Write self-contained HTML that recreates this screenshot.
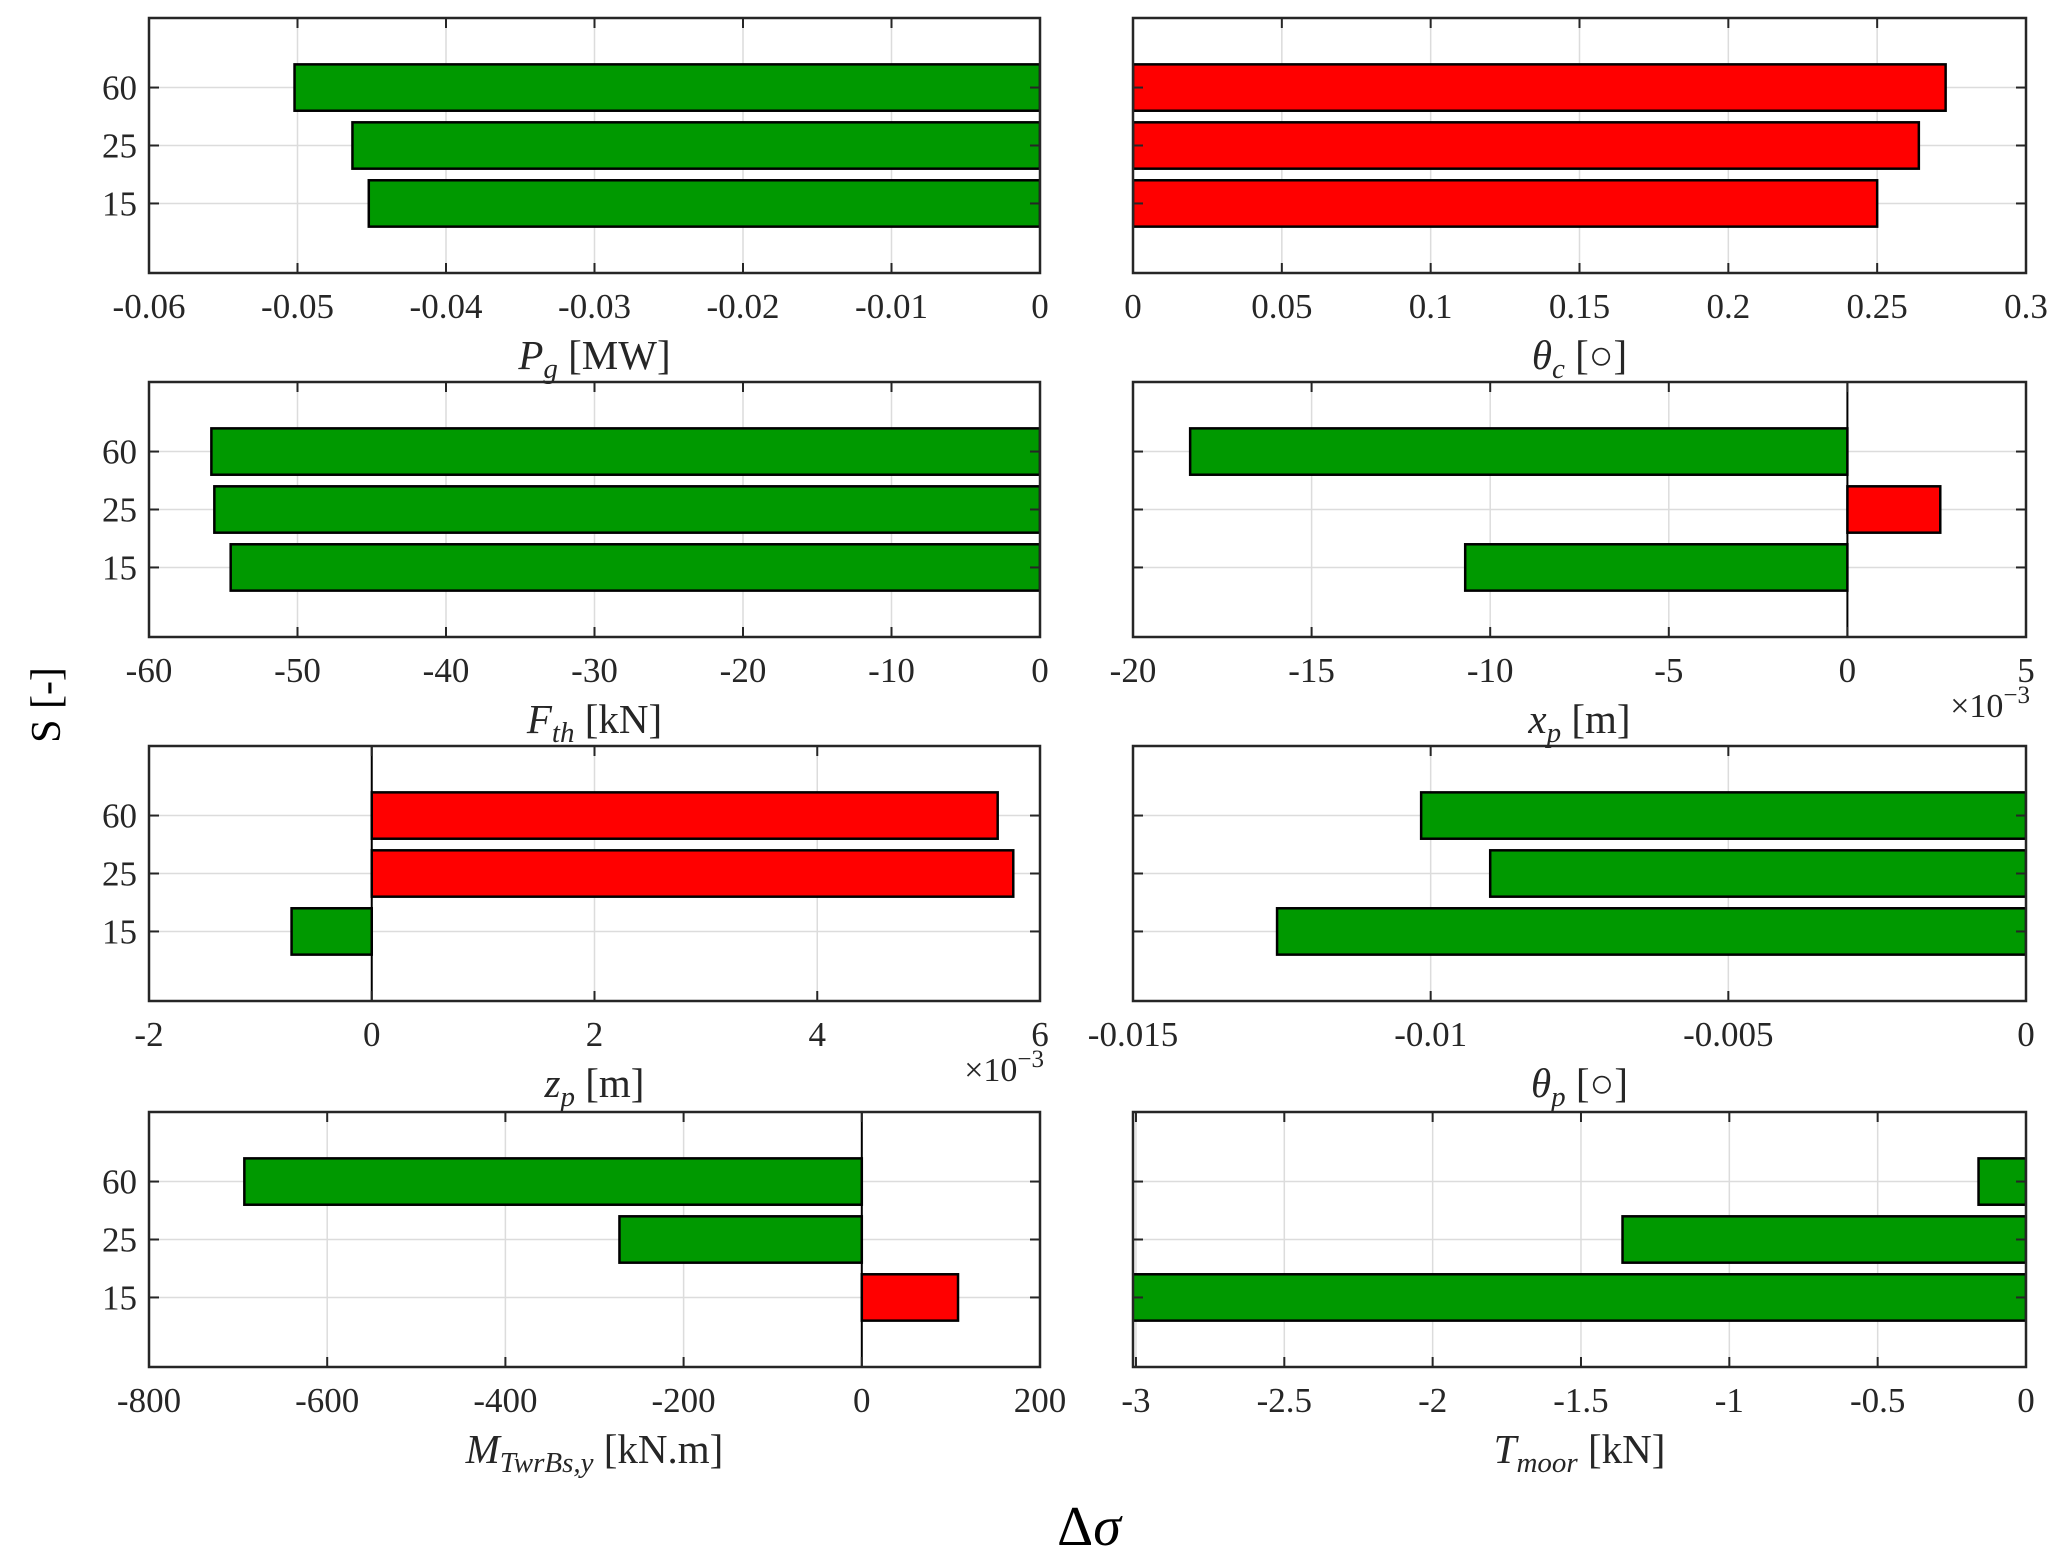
<!DOCTYPE html>
<html><head><meta charset="utf-8"><style>
html,body{margin:0;padding:0;background:#fff;}
svg{display:block;font-family:"Liberation Serif",serif;}
</style></head><body>
<svg id="fig" width="2067" height="1565" viewBox="0 0 2067 1565" xmlns="http://www.w3.org/2000/svg">
<text x="0" y="0" transform="translate(60,705) rotate(-90)" text-anchor="middle" font-size="42">S [-]</text>
<text x="1089" y="1545" text-anchor="middle" font-size="56">Δ<tspan font-style="italic">σ</tspan></text>
</svg>
<script>
const categories = ["15","25","60"];
const pgValues = [-0.0452, -0.0463, -0.0502];
const thetaCValues = [0.250, 0.264, 0.273];
const fthValues = [-54.5, -55.6, -55.8];
const xpValues = [-10.7, 2.6, -18.4];
const zpValues = [-0.72, 5.76, 5.62];
const thetaPValues = [-0.01258, -0.0090, -0.01016];
const mValues = [108, -272, -693];
const tValues = [-3.1, -1.36, -0.16];
const pgTicks = ["-0.06","-0.05","-0.04","-0.03","-0.02","-0.01","0"];
const thetaCTicks = ["0","0.05","0.1","0.15","0.2","0.25","0.3"];
const fthTicks = ["-60","-50","-40","-30","-20","-10","0"];
const xpTicks = ["-20","-15","-10","-5","0","5"];
const zpTicks = ["-2","0","2","4","6"];
const thetaPTicks = ["-0.015","-0.01","-0.005","0"];
const mTicks = ["-800","-600","-400","-200","0","200"];
const tTicks = ["-3","-2.5","-2","-1.5","-1","-0.5","0"];

const NS="http://www.w3.org/2000/svg";
const svg=document.getElementById('fig');
function mk(tag,attrs,parent){const e=document.createElementNS(NS,tag);for(const k in attrs)e.setAttribute(k,attrs[k]);(parent||svg).appendChild(e);return e;}

const panels=[
 {name:'pg',col:0,row:0,vals:pgValues,ticks:pgTicks,xmin:-0.06,xmax:0,label:['P','g',' [MW]'],zero:false},
 {name:'theta-c',col:1,row:0,vals:thetaCValues,ticks:thetaCTicks,xmin:0,xmax:0.3,label:['θ','c',' [○]'],zero:false},
 {name:'fth',col:0,row:1,vals:fthValues,ticks:fthTicks,xmin:-60,xmax:0,label:['F','th',' [kN]'],zero:false},
 {name:'xp',col:1,row:1,vals:xpValues,ticks:xpTicks,xmin:-20,xmax:5,label:['x','p',' [m]'],zero:true,exp:true},
 {name:'zp',col:0,row:2,vals:zpValues,ticks:zpTicks,xmin:-2,xmax:6,label:['z','p',' [m]'],zero:true,exp:true},
 {name:'theta-p',col:1,row:2,vals:thetaPValues,ticks:thetaPTicks,xmin:-0.015,xmax:0,label:['θ','p',' [○]'],zero:false},
 {name:'m-twr',col:0,row:3,vals:mValues,ticks:mTicks,xmin:-800,xmax:200,label:['M','TwrBs,y',' [kN.m]'],zero:true},
 {name:'t-moor',col:1,row:3,vals:tValues,ticks:tTicks,xmin:-3.01,xmax:0,label:['T','moor',' [kN]'],zero:false}
];
const cols=[[149,1040],[1133,2026]];
const rows=[18,382,746,1112];
const H=255, ymin=-0.2, ymax=4.2;

panels.forEach((p,pi)=>{
 const x0=cols[p.col][0], x1=cols[p.col][1], y0=rows[p.row], y1=y0+H;
 const g=mk('g',{});
 
 
 const clipId='clip'+pi;
 const cp=mk('clipPath',{id:clipId},g); mk('rect',{x:x0,y:y0,width:x1-x0,height:H},cp);
 const xs=v=>x0+(v-p.xmin)/(p.xmax-p.xmin)*(x1-x0);
 const ys=v=>y1-(v-ymin)/(ymax-ymin)*H;
 const tickVals=p.ticks.map(Number);
 tickVals.forEach(t=>{const x=xs(t);mk('line',{x1:x,x2:x,y1:y0,y2:y1,stroke:'#dcdcdc','stroke-width':1.5},g);});
 categories.forEach((c,i)=>{const y=ys(i+1);mk('line',{x1:x0,x2:x1,y1:y,y2:y,stroke:'#dcdcdc','stroke-width':1.5},g);});
 const bg=mk('g',{'clip-path':'url(#'+clipId+')'},g);
 p.vals.forEach((v,i)=>{
  const a=xs(Math.min(0,v)), b=xs(Math.max(0,v));
  const yc=ys(i+1), hh=0.4*H/(ymax-ymin);
  const r=mk('rect',{x:a,y:yc-hh,width:b-a,height:2*hh,fill:v<0?'#009900':'#ff0000',stroke:'#000','stroke-width':2.5},bg);
  
  
 });
 if(p.zero){const x=xs(0);mk('line',{x1:x,x2:x,y1:y0,y2:y1,stroke:'#000','stroke-width':2},g);}
 mk('rect',{x:x0,y:y0,width:x1-x0,height:H,fill:'none',stroke:'#262626','stroke-width':2.5},g);
 tickVals.forEach((t,k)=>{const x=xs(t);
  mk('line',{x1:x,x2:x,y1:y1,y2:y1-10,stroke:'#262626','stroke-width':2},g);
  mk('line',{x1:x,x2:x,y1:y0,y2:y0+10,stroke:'#262626','stroke-width':2},g);
  const tl=mk('text',{x:x,y:y1+45,'text-anchor':'middle','font-size':35,fill:'#262626'},g);
  tl.textContent=p.ticks[k];
  
  
 });
 categories.forEach((c,i)=>{const y=ys(i+1);
  mk('line',{x1:x0,x2:x0+10,y1:y,y2:y,stroke:'#262626','stroke-width':2},g);
  mk('line',{x1:x1,x2:x1-10,y1:y,y2:y,stroke:'#262626','stroke-width':2},g);
  if(p.col===0){const tl=mk('text',{x:x0-12,y:y+12,'text-anchor':'end','font-size':35,fill:'#262626'},g);
   tl.textContent=c;
   
   }
 });
 const lab=mk('text',{x:(x0+x1)/2,y:y1+96,'text-anchor':'middle','font-size':41,fill:'#262626'},g);
 
 
 const t1=mk('tspan',{'font-style':'italic'},lab);t1.textContent=p.label[0];
 const t2=mk('tspan',{'font-style':'italic','font-size':29,dy:9},lab);t2.textContent=p.label[1];
 const t3=mk('tspan',{dy:-9},lab);t3.textContent=p.label[2];
 if(p.exp){const e=mk('text',{x:x1+4,y:y1+80,'text-anchor':'end','font-size':34,fill:'#262626'},g);
  
  
  const a=mk('tspan',{},e);a.textContent='×10';
  const b=mk('tspan',{dy:-14,'font-size':25},e);b.textContent='−3';}
});
</script>
</body></html>
